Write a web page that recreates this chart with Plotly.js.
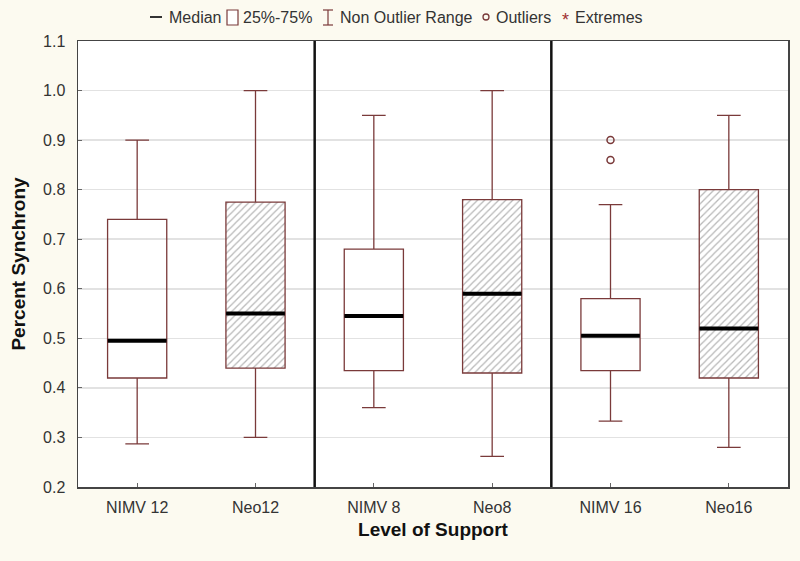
<!DOCTYPE html>
<html>
<head>
<meta charset="utf-8">
<script src="https://cdn.plot.ly/plotly-3.0.1.min.js"></script>
<style>html,body{margin:0;padding:0;background:#fcfaf0;}#chart{width:800px;height:561px;}</style>
</head>
<body>
<div id="chart"></div>
<script>
// ---- data ----
const categories = ['NIMV 12', 'Neo12', 'NIMV 8', 'Neo8', 'NIMV 16', 'Neo16'];
const hatched = [false, true, false, true, false, true];
const lowerWhisker = [0.287, 0.300, 0.360, 0.262, 0.333, 0.280];
const q1 = [0.420, 0.440, 0.435, 0.430, 0.435, 0.420];
const median = [0.495, 0.550, 0.545, 0.590, 0.505, 0.520];
const q3 = [0.740, 0.775, 0.680, 0.780, 0.580, 0.800];
const upperWhisker = [0.900, 1.000, 0.950, 1.000, 0.770, 0.950];
const outlierCats = ['NIMV 16', 'NIMV 16'];
const outlierVals = [0.900, 0.860];
const yTicks = [0.2, 0.3, 0.4, 0.5, 0.6, 0.7, 0.8, 0.9, 1.0, 1.1];
const legendLabels = ['Median', '25%-75%', 'Non Outlier Range', 'Outliers', 'Extremes'];

// ---- layout constants ----
const W = 800, H = 561;
const M = {l: 78, r: 12, t: 41, b: 74};
const PW = W - M.l - M.r, PH = H - M.t - M.b;
const px = v => (v - M.l) / PW;
const py = v => (H - M.b - v) / PH;
const boxCol = '#7a3a3a';
const font = 'Liberation Sans, Arial, sans-serif';

const hatchCats = categories.filter((c, i) => hatched[i]);
const hatchBase = q1.filter((c, i) => hatched[i]);
const hatchH = q3.map((v, i) => v - q1[i]).filter((c, i) => hatched[i]);

const traces = [
  {
    type: 'bar', x: hatchCats, base: hatchBase, y: hatchH, width: 0.5,
    marker: {color: 'white', line: {width: 0},
      pattern: {shape: '/', fgcolor: '#b8b8b8', bgcolor: 'white', size: 5, solidity: 0.25}},
    hoverinfo: 'skip', showlegend: false
  },
  {
    type: 'box', x: categories, q1: q1, median: median, q3: q3,
    lowerfence: lowerWhisker, upperfence: upperWhisker,
    width: 0.5, whiskerwidth: 0.4, boxpoints: false,
    line: {color: boxCol, width: 1.3}, fillcolor: 'rgba(0,0,0,0)',
    hoverinfo: 'skip', showlegend: false
  },
  {
    type: 'scatter', mode: 'markers', x: categories, y: median,
    marker: {symbol: 'line-ew', size: 42, line: {width: 4, color: '#000'}},
    hoverinfo: 'skip', showlegend: false
  },
  {
    type: 'scatter', mode: 'markers', x: outlierCats, y: outlierVals,
    marker: {symbol: 'circle-open', size: 7, color: boxCol, line: {width: 1.5, color: boxCol}},
    hoverinfo: 'skip', showlegend: false
  }
];

// legend drawn at top
const ly = 17;
const shapes = [
  {type: 'line', xref: 'x', yref: 'paper', x0: 1.5, x1: 1.5, y0: 0, y1: 1, line: {color: '#111', width: 2.5}},
  {type: 'line', xref: 'x', yref: 'paper', x0: 3.5, x1: 3.5, y0: 0, y1: 1, line: {color: '#111', width: 2.5}},
  {type: 'line', xref: 'paper', yref: 'paper', x0: px(150), x1: px(162), y0: py(ly), y1: py(ly), line: {color: '#333', width: 2}},
  {type: 'rect', xref: 'paper', yref: 'paper', x0: px(227), x1: px(238), y0: py(10), y1: py(25), fillcolor: 'white', line: {color: boxCol, width: 1.2}},
  {type: 'line', xref: 'paper', yref: 'paper', x0: px(328), x1: px(328), y0: py(10), y1: py(25), line: {color: boxCol, width: 1.2}},
  {type: 'line', xref: 'paper', yref: 'paper', x0: px(323), x1: px(333), y0: py(10), y1: py(10), line: {color: boxCol, width: 1.2}},
  {type: 'line', xref: 'paper', yref: 'paper', x0: px(323), x1: px(333), y0: py(25), y1: py(25), line: {color: boxCol, width: 1.2}},
  {type: 'circle', xref: 'paper', yref: 'paper', x0: px(483), x1: px(489), y0: py(14), y1: py(20), line: {color: boxCol, width: 1.3}},
];
const legX = [167, 241, 338, 494, 573];
const annotations = legendLabels.map((t, i) => ({
  xref: 'paper', yref: 'paper', x: px(legX[i]), y: py(ly), xanchor: 'left', yanchor: 'middle',
  text: t, showarrow: false, font: {family: font, size: 16, color: '#333'}
}));
annotations.push({xref: 'paper', yref: 'paper', x: px(565), y: py(ly + 3), xanchor: 'center', yanchor: 'middle',
  text: '*', showarrow: false, font: {family: font, size: 18, color: '#a03030'}});

const layout = {
  width: W, height: H, margin: M,
  paper_bgcolor: '#fcfaf0', plot_bgcolor: 'white',
  showlegend: false, barmode: 'overlay',
  font: {family: font, color: '#333'},
  xaxis: {
    type: 'category', categoryorder: 'array', categoryarray: categories,
    range: [-0.5, 5.5], showgrid: false, showline: true, mirror: true, linecolor: '#444', linewidth: 1.5,
    ticks: 'inside', ticklen: 4, tickcolor: '#666', tickfont: {size: 16, color: '#333'}, ticklabelstandoff: 5,
    title: {text: 'Level of Support', font: {size: 19, color: '#111', weight: 'bold'}, standoff: 8},
    zeroline: false
  },
  yaxis: {
    range: [0.2, 1.1], tickvals: yTicks, tickformat: '.1f',
    showgrid: true, gridcolor: '#e2e2e2', gridwidth: 1.5,
    showline: true, mirror: true, linecolor: '#444', linewidth: 1.5,
    ticks: 'inside', ticklen: 4, tickcolor: '#666', tickfont: {size: 16, color: '#333'}, ticklabelstandoff: 8,
    title: {text: 'Percent Synchrony', font: {size: 19, color: '#111', weight: 'bold'}, standoff: 12},
    zeroline: false
  },
  shapes: shapes, annotations: annotations
};

Plotly.newPlot('chart', traces, layout, {displayModeBar: false, staticPlot: true});
</script>
</body>
</html>
